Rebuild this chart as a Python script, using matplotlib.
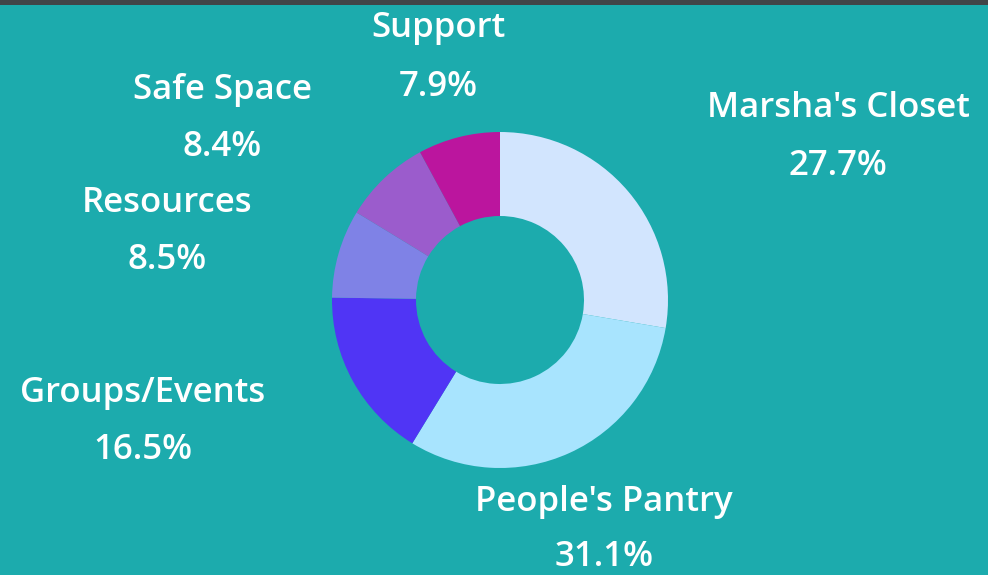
import matplotlib
matplotlib.use('Agg')
import matplotlib.pyplot as plt

categories = ["Marsha's Closet", "People's Pantry", 'Groups/Events', 'Resources', 'Safe Space', 'Support']
shares = [27.7, 31.1, 16.5, 8.5, 8.4, 7.9]
colors = ['#d2e5fe', '#a8e4fe', '#5035f5', '#7f82e6', '#9b5ccc', '#bb159e']

# label centre positions in pixels (x, y from top) for name line
label_pos = [(838, 108), (604, 502), (143, 393), (167, 203), (222, 90), (438, 28)]
pct_pos = [(838, 166), (604, 557), (143, 450), (167, 260), (222, 147), (438, 87)]

W, H = 988, 575
bg = '#1cabad'
fig = plt.figure(figsize=(W / 100, H / 100), dpi=100, facecolor=bg)

# dark strip at the top
strip = fig.add_axes([0, 1 - 5 / H, 1, 5 / H])
strip.set_facecolor('#414548')
strip.set_xticks([]); strip.set_yticks([])
for s in strip.spines.values():
    s.set_visible(False)

cx, cy, r = 500, 300, 168
ax = fig.add_axes([(cx - r) / W, (H - cy - r) / H, 2 * r / W, 2 * r / H])
ax.set_facecolor(bg)
ax.pie(shares, colors=colors, startangle=90, counterclock=False, radius=1,
       wedgeprops=dict(width=0.5, linewidth=0))
ax.set_xlim(-1, 1); ax.set_ylim(-1, 1)
ax.set_aspect('equal')
ax.axis('off')

font = dict(family='Open Sans', weight='semibold', color='white', fontsize=25, ha='center', va='center')
for name, val, (lx, ly), (px, py) in zip(categories, shares, label_pos, pct_pos):
    fig.text(lx / W, 1 - ly / H, name, **font)
    fig.text(px / W, 1 - py / H, f'{val}%', **font)

fig.savefig('out.png', dpi=100, facecolor=bg)
